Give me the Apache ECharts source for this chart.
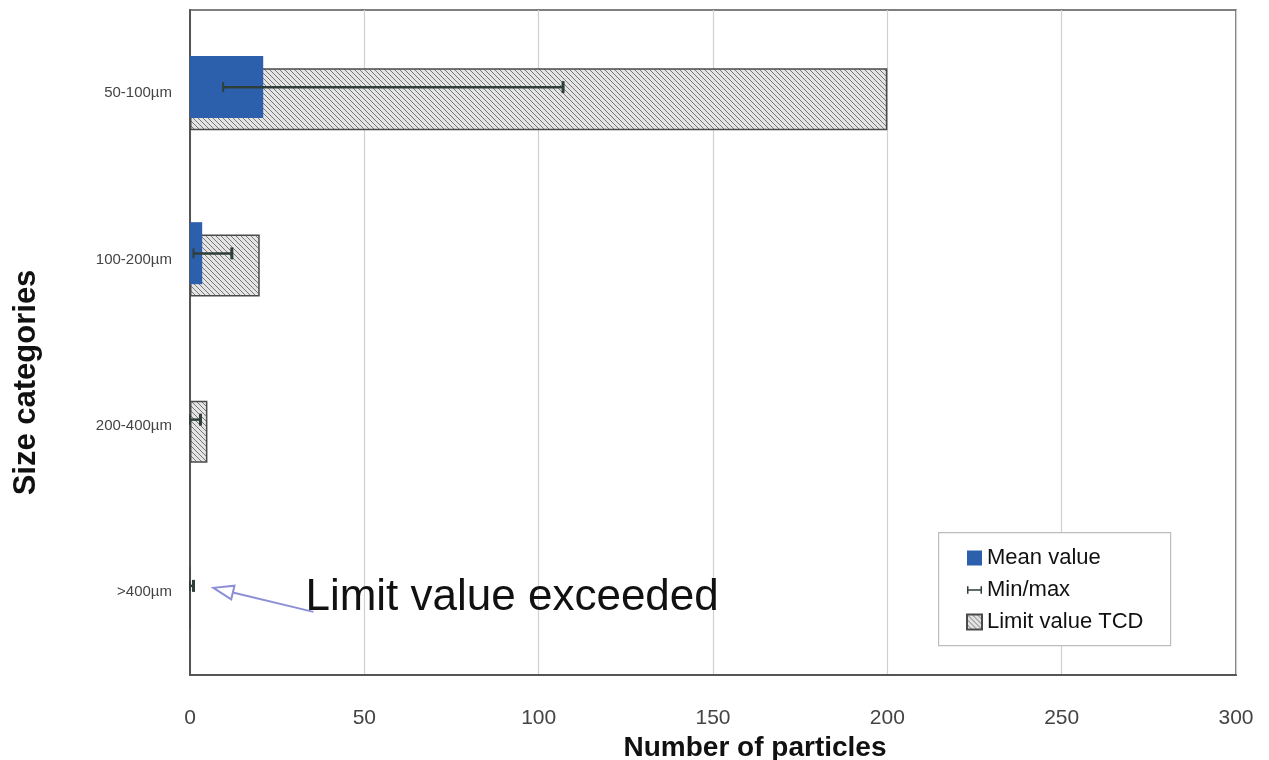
<!DOCTYPE html>
<html><head><meta charset="utf-8">
<script src="https://cdn.jsdelivr.net/npm/echarts@6/dist/echarts.min.js"></script>
<style>html,body{margin:0;padding:0;background:#fff}#c{width:1269px;height:760px}</style>
</head><body><div id="c"></div>
<script>
const categories = ['50-100µm', '100-200µm', '200-400µm', '>400µm'];
const meanValues = [21, 3.5, 0, 0];
const limitValues = [200, 20, 5, 0];
const minValues = [9.5, 1, 0, 0];
const maxValues = [107, 12, 3, 1];
const xTicks = [0, 50, 100, 150, 200, 250, 300];

function hatch() {
  const c = document.createElement('canvas');
  c.width = 5; c.height = 5;
  const g = c.getContext('2d');
  g.fillStyle = '#e4e4e4'; g.fillRect(0, 0, 5, 5);
  g.strokeStyle = '#777'; g.lineWidth = 1;
  for (let k = -5; k <= 10; k += 5) {
    g.beginPath(); g.moveTo(k, 0); g.lineTo(k + 5, 5); g.stroke();
  }
  return c;
}
const pattern = { image: hatch(), repeat: 'repeat' };

const errData = categories.map((c, i) => [i, minValues[i], maxValues[i]]);
const font = 'Liberation Sans, Arial, sans-serif';

const chart = echarts.init(document.getElementById('c'));
chart.setOption({
  animation: false,
  textStyle: { fontFamily: font },
  grid: { left: 190, right: 33, top: 10, bottom: 85, show: true, borderColor: '#555', borderWidth: 1.5, outerBoundsMode: 'none', containLabel: false },
  xAxis: {
    type: 'value', min: xTicks[0], max: xTicks[xTicks.length - 1], interval: 50,
    axisLine: { show: true, lineStyle: { color: '#555', width: 2 } },
    axisTick: { show: false },
    splitLine: { lineStyle: { color: '#d0d0d0', width: 1.2 } },
    axisLabel: { fontSize: 21, color: '#444', margin: 33 },
    name: 'Number of particles', nameLocation: 'middle', nameGap: 52,
    nameTextStyle: { fontSize: 28, fontWeight: 'bold', color: '#111', padding: [0, 0, 0, 84] }
  },
  yAxis: {
    type: 'category', data: categories, inverse: true,
    axisLine: { show: true, lineStyle: { color: '#555', width: 2 } },
    axisTick: { show: false },
    axisLabel: { fontSize: 15, color: '#444', margin: 18 },
    name: 'Size categories', nameLocation: 'middle', nameGap: 148, nameRotate: 90,
    nameTextStyle: { fontSize: 31, fontWeight: 'bold', color: '#111', padding: [0, 80, 0, 0] }
  },
  legend: {
    orient: 'vertical', left: 961, top: 542, itemGap: 10, itemWidth: 15, itemHeight: 15,
    textStyle: { fontSize: 22, color: '#111', fontFamily: font },
    data: [
      { name: 'Mean value', icon: 'rect' },
      { name: 'Min/max', icon: 'path://M0,0h2v10h-2z M2,4h16v2h-16z M18,0h2v10h-2z' },
      { name: 'Limit value TCD', icon: 'rect' }
    ],
    z: 10
  },
  series: [
    {
      name: 'Mean value', type: 'bar', data: meanValues, barWidth: 62, barGap: '-80%', z: 3,
      itemStyle: { color: '#2c60ad', borderWidth: 0 }
    },
    {
      name: 'Limit value TCD', type: 'bar', data: limitValues, barWidth: 62, z: 2,
      itemStyle: { color: pattern, borderColor: '#4a4a4a', borderWidth: 1.5 }
    },
    {
      name: 'Min/max', type: 'custom', z: 5,
      itemStyle: { color: '#2f3e3a' },
      encode: { y: 0, x: [1, 2] },
      data: errData,
      renderItem: function (params, api) {
        const cat = api.value(0);
        const lo = api.coord([api.value(1), cat]);
        const hi = api.coord([api.value(2), cat]);
        const y = lo[1] - 6;
        const st = { stroke: '#2f3e3a', lineWidth: 2.5 };
        return {
          type: 'group', children: [
            { type: 'line', shape: { x1: lo[0], y1: y, x2: hi[0], y2: y }, style: st },
            { type: 'line', shape: { x1: lo[0], y1: y - 5, x2: lo[0], y2: y + 5 }, style: { stroke: '#2f3e3a', lineWidth: 2 } },
            { type: 'line', shape: { x1: hi[0], y1: y - 6, x2: hi[0], y2: y + 6 }, style: { stroke: '#2f3e3a', lineWidth: 3 } }
          ]
        };
      }
    }
  ]
});

// annotation positioned from data coordinates
const p = chart.convertToPixel({ gridIndex: 0 }, [7, 3]);
const tip = [p[0] - 1, p[1] - 4];
const tail = [tip[0] + 100, tip[1] + 24];
const ang = Math.atan2(tail[1] - tip[1], tail[0] - tip[0]);
const L = 20, W = 7;
const bx = tip[0] + Math.cos(ang) * L, by = tip[1] + Math.sin(ang) * L;
const px = -Math.sin(ang) * W, py = Math.cos(ang) * W;
chart.setOption({
  graphic: [
    { type: 'rect', left: 938, top: 532, shape: { width: 232, height: 113 }, style: { fill: '#fff', stroke: '#bdbdbd', lineWidth: 1.2 }, z: 8 },
    { type: 'text', left: p[0] + 91, top: p[1] - 16, style: { text: 'Limit value exceeded', font: '44px ' + font, fill: '#111' }, z: 20 },
    { type: 'line', shape: { x1: bx, y1: by, x2: tail[0], y2: tail[1] }, style: { stroke: '#8d8fd6', lineWidth: 2 }, z: 20 },
    { type: 'polygon', shape: { points: [[tip[0], tip[1]], [bx + px, by + py], [bx - px, by - py]] }, style: { fill: 'none', stroke: '#8d8fd6', lineWidth: 2 }, z: 20 }
  ]
});
</script></body></html>
